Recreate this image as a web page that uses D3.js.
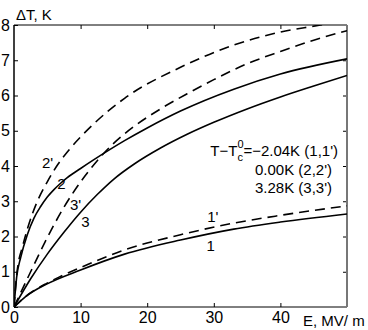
<!DOCTYPE html>
<html>
<head>
<meta charset="utf-8">
<script src="https://cdn.jsdelivr.net/npm/d3@7"></script>
<style>
    body { margin:0; background:#fff; }
    svg { display:block; font-family:"Liberation Sans", Arial, sans-serif; }
    .axis path { display:none; }
    .axis line { stroke:#000; }
    .axis text { font-size:16px; fill:#000; }
</style>
</head>
<body>
<svg id="chart" width="368" height="330"></svg>
<script>
// data: E in MV/m, dT in K
var xTicks = [0, 10, 20, 30, 40];
var yTicks = [0, 1, 2, 3, 4, 5, 6, 7, 8];

var e1  = [0, 1.7, 4.9, 10, 16.6, 25, 33, 40, 50];
var t1  = [0, 0.29, 0.65, 1.05, 1.5, 1.9, 2.21, 2.41, 2.64];
var e1d = [0, 1.7, 4.9, 6.9, 10, 16.6, 25, 33, 40, 50];
var t1d = [0, 0.29, 0.67, 0.86, 1.12, 1.62, 2.05, 2.38, 2.6, 2.87];

var e2  = [0, 0.4, 1, 2, 3, 4, 5, 6, 7, 8, 10, 12, 16.6, 20, 25, 33, 40, 50];
var t2  = [0, 0.85, 1.4, 2.05, 2.52, 2.85, 3.12, 3.33, 3.51, 3.67, 3.93, 4.18, 4.72, 5.08, 5.56, 6.18, 6.61, 7.04];
var e2d = [0, 0.4, 1.35, 2.1, 3.4, 5, 6.6, 8.1, 12, 16.6, 25, 33, 40, 46, 50];
var t2d = [0, 0.9, 1.76, 2.27, 2.95, 3.55, 4.05, 4.42, 5.2, 5.92, 6.8, 7.43, 7.8, 8.0, 8.15];

var e3  = [0, 2.5, 5, 7.5, 10, 12.5, 15, 18, 22, 26, 30, 35, 40, 45, 50];
var t3  = [0, 0.8, 1.5, 2.12, 2.69, 3.19, 3.63, 4.05, 4.51, 4.9, 5.24, 5.62, 5.96, 6.27, 6.57];
var e3d = [0, 2.5, 5, 7.5, 10, 12.5, 15, 18, 22, 26, 30, 35, 40, 45, 50];
var t3d = [0, 1.0, 1.97, 2.83, 3.55, 4.15, 4.65, 5.12, 5.62, 6.05, 6.45, 6.9, 7.25, 7.57, 7.84];

var series = [
    {e:e1, t:t1, dash:false}, {e:e1d, t:t1d, dash:true},
    {e:e2, t:t2, dash:false}, {e:e2d, t:t2d, dash:true},
    {e:e3, t:t3, dash:false}, {e:e3d, t:t3d, dash:true}
];

var curveLabels = [
    {txt:"2'", e:4.2, t:3.93},
    {txt:"2",  e:6.5, t:3.36},
    {txt:"3'", e:8.4, t:2.75},
    {txt:"3",  e:10.1, t:2.27},
    {txt:"1'", e:29, t:2.42},
    {txt:"1",  e:28.9, t:1.6}
];

var svg = d3.select("#chart");
var plotL = 14, plotR = 347, plotT = 25, plotB = 307;

var x = d3.scaleLinear().domain([0, 50]).range([plotL, plotR]);
var y = d3.scaleLinear().domain([0, 8]).range([plotB, plotT]);

svg.append("clipPath").attr("id", "plotclip")
    .append("rect").attr("x", plotL).attr("y", plotT)
    .attr("width", plotR - plotL).attr("height", plotB - plotT);

// axes, ticks pointing inward like matlab
svg.append("g").attr("class", "axis")
    .attr("transform", "translate(0," + plotB + ")")
    .call(d3.axisBottom(x).tickValues(xTicks).tickSize(-4).tickPadding(5).tickFormat(d3.format("d")));
svg.append("g").attr("class", "axis")
    .attr("transform", "translate(" + plotL + ",0)")
    .call(d3.axisLeft(y).tickValues(yTicks).tickSize(-4).tickPadding(4).tickFormat(d3.format("d")));
svg.append("g").attr("class", "axis")
    .attr("transform", "translate(0," + plotT + ")")
    .call(d3.axisTop(x).tickValues([10, 20, 30, 40]).tickSize(-4).tickFormat(""));
svg.append("g").attr("class", "axis")
    .attr("transform", "translate(" + plotR + ",0)")
    .call(d3.axisRight(y).tickValues(yTicks.slice(1, 8)).tickSize(-4).tickFormat(""));

// box
svg.append("line").attr("x1", plotL).attr("x2", plotR).attr("y1", plotT).attr("y2", plotT).attr("stroke", "#000");
svg.append("line").attr("x1", plotL).attr("x2", plotR).attr("y1", plotB).attr("y2", plotB).attr("stroke", "#000");
svg.append("line").attr("x1", plotL).attr("x2", plotL).attr("y1", plotT).attr("y2", plotB).attr("stroke", "#000").attr("stroke-width", 1.5);
svg.append("line").attr("x1", plotR).attr("x2", plotR).attr("y1", plotT).attr("y2", plotB).attr("stroke", "#777").attr("stroke-width", 2);

var line = d3.line()
    .x(function(d){ return x(d[0]); })
    .y(function(d){ return y(d[1]); })
    .curve(d3.curveMonotoneX);

svg.append("g").attr("clip-path", "url(#plotclip)")
    .selectAll("path").data(series).enter().append("path")
    .attr("d", function(s){ return line(d3.zip(s.e, s.t)); })
    .attr("fill", "none")
    .attr("stroke", "#000")
    .attr("stroke-width", 1.6)
    .attr("stroke-dasharray", function(s){ return s.dash ? "10,6" : null; });

svg.selectAll("text.clab").data(curveLabels).enter().append("text")
    .attr("class", "clab")
    .attr("x", function(d){ return x(d.e); })
    .attr("y", function(d){ return y(d.t); })
    .attr("font-size", 15)
    .text(function(d){ return d.txt; });

// axis titles
svg.append("text").attr("x", 16).attr("y", 20).attr("font-size", 15).text("\u0394T, K");
svg.append("text").attr("x", 303).attr("y", 326).attr("font-size", 15).text("E, MV/ m");

// annotation with T_c^0, first line ends at 338
var ann = svg.append("g").attr("font-size", 15);
var tail = ann.append("text").attr("x", 338).attr("y", 156).attr("text-anchor", "end")
    .text("=\u22122.04K (1,1')");
var tailX = 338 - tail.node().getComputedTextLength();
ann.append("text").attr("x", tailX - 6).attr("y", 148).attr("font-size", 11).text("0");
ann.append("text").attr("x", tailX - 6).attr("y", 161).attr("font-size", 11).text("c");
ann.append("text").attr("x", tailX - 6).attr("y", 156).attr("text-anchor", "end").text("T\u2212T");
ann.append("text").attr("x", 255).attr("y", 175).text("0.00K (2,2')");
ann.append("text").attr("x", 255).attr("y", 193).text("3.28K (3,3')");
</script>
</body>
</html>
